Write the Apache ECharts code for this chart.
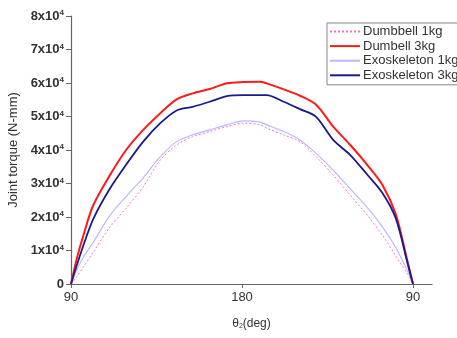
<!DOCTYPE html>
<html><head><meta charset="utf-8">
<script src="https://cdn.jsdelivr.net/npm/echarts@6/dist/echarts.min.js"></script>
<style>html,body{margin:0;padding:0;background:#fff}#c{width:457px;height:338px}</style>
</head><body><div id="c"></div>
<script>
// path index: 0 -> theta 90, 90 -> theta 180, 180 -> theta 90
const xIdx = [0,3,6.5,11.7,20.5,29,38,47,55.6,64,73,82,90.7,99.5,103,112,120.5,129,138,147,156,164,171,177,180];
const dumbbell1 = [0,0.22,0.5,0.95,1.7,2.26,2.9,3.70,4.15,4.40,4.55,4.70,4.80,4.75,4.65,4.45,4.25,3.80,3.25,2.65,2.05,1.45,0.83,0.30,0];
const dumbbell3 = [0,0.75,1.45,2.35,3.25,4.0,4.6,5.1,5.51,5.69,5.82,5.99,6.03,6.04,5.99,5.81,5.62,5.35,4.70,4.15,3.55,2.95,2.07,0.70,0];
const exo1 = [0,0.42,0.8,1.24,2.05,2.61,3.17,3.80,4.25,4.45,4.60,4.75,4.87,4.83,4.75,4.55,4.30,3.90,3.40,2.84,2.28,1.70,1.08,0.40,0];
const exo3 = [0,0.55,1.15,1.94,2.85,3.56,4.25,4.80,5.18,5.29,5.44,5.61,5.64,5.64,5.64,5.44,5.22,4.99,4.30,3.85,3.26,2.71,1.95,0.65,0];
const xTickLabels = {0:'90', 90:'180', 180:'90'};
const names = ['Dumbbell 1kg','Dumbell 3kg','Exoskeleton 1kg','Exoskeleton 3kg'];

const pts = arr => arr.map((v,i)=>[xIdx[i], v*10000]);
const chart = echarts.init(document.getElementById('c'));
chart.setOption({
  animation:false,
  textStyle:{fontFamily:'Liberation Sans, Arial'},
  grid:{left:71, right:25, top:16, bottom:54, containLabel:false, outerBoundsMode:'none'},
  legend:{
    orient:'vertical', left:327, top:23, padding:[2,4,3,2],
    borderColor:'#888', borderWidth:1, itemGap:1.6, itemWidth:30, itemHeight:13.5,
    itemStyle:{opacity:0},
    textStyle:{fontSize:13, color:'#333', padding:[0,0,0,-2]},
    data:names
  },
  xAxis:{
    type:'value', min:0, max:190,
    name:'θ{sub|2}(deg)', nameLocation:'middle', nameGap:33,
    nameTextStyle:{fontSize:12, color:'#333', rich:{sub:{fontSize:7, verticalAlign:'bottom', padding:[6,0,0,0]}}},
    axisLine:{lineStyle:{color:'#666', width:1.2}},
    axisTick:{show:true, length:4, customValues:[0,90,180], lineStyle:{color:'#666'}},
    axisLabel:{customValues:[0,90,180], fontSize:13, color:'#333', margin:7,
      formatter:v=>xTickLabels[v] || ''},
    splitLine:{show:false}
  },
  yAxis:{
    type:'value', min:0, max:80000, interval:10000,
    name:'Joint torque (N-mm)', nameLocation:'middle', nameGap:48,
    nameTextStyle:{fontSize:13, color:'#333'},
    axisLine:{show:true, lineStyle:{color:'#666', width:1.2}},
    axisTick:{show:true, length:5, lineStyle:{color:'#666'}},
    axisLabel:{fontSize:13, fontWeight:'bold', color:'#333', margin:7,
      formatter:v=> v===0 ? '{a|0}' : '{a|'+(v/10000)+'x10}{s|4}',
      rich:{a:{fontSize:13, fontWeight:'bold', color:'#333'}, s:{fontSize:8, fontWeight:'bold', color:'#333', verticalAlign:'top', padding:[0,0,6,0]}}},
    splitLine:{show:false}
  },
  series:[
    {name:names[0], type:'line', data:pts(dumbbell1), symbol:'none', smooth:0.3,
      lineStyle:{color:'#ff70c0', width:1, type:[2,2]}, itemStyle:{color:'#ff70c0'}, z:2},
    {name:names[1], type:'line', data:pts(dumbbell3), symbol:'none', smooth:0.3,
      lineStyle:{color:'#ff1a1a', width:2}, itemStyle:{color:'#ff1a1a'}, z:3},
    {name:names[2], type:'line', data:pts(exo1), symbol:'none', smooth:0.3,
      lineStyle:{color:'#b8b8ff', width:1.2}, itemStyle:{color:'#b8b8ff'}, z:2},
    {name:names[3], type:'line', data:pts(exo3), symbol:'none', smooth:0.3,
      lineStyle:{color:'#1a1a8a', width:1.8}, itemStyle:{color:'#1a1a8a'}, z:4}
  ]
});
</script></body></html>
